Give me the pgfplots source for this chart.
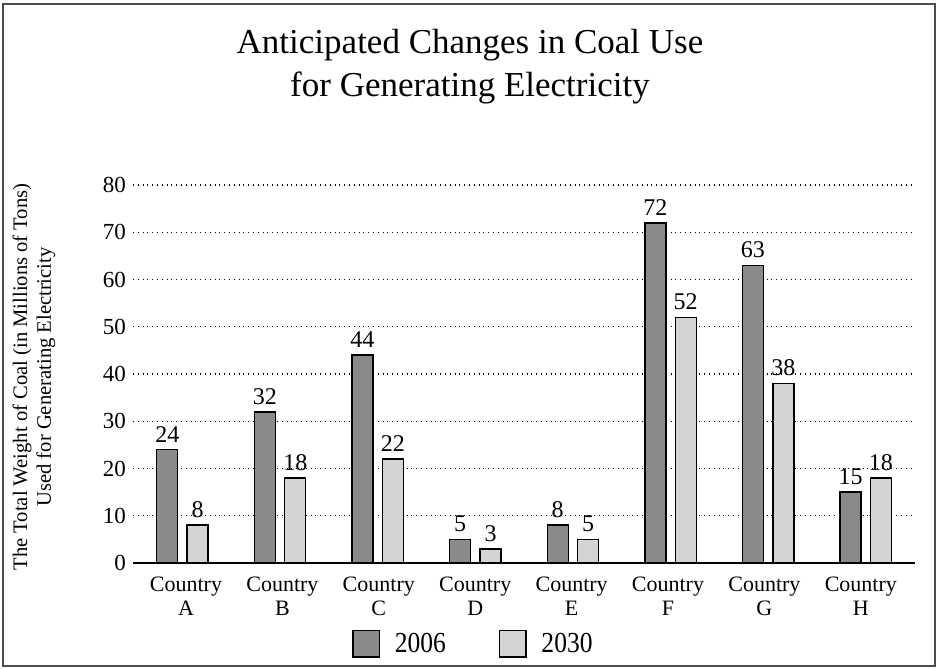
\documentclass[border=0pt]{standalone}
\usepackage{pgfplots}
\pgfplotsset{compat=1.18}
\usepackage{fontspec}
\setmainfont{Liberation Serif}
\newfontfamily\numfont[FakeStretch=0.88]{Liberation Serif}
\definecolor{dark}{HTML}{8A8A8A}
\definecolor{light}{HTML}{D4D4D4}
\begin{document}
\begin{tikzpicture}
\useasboundingbox (0,0) rectangle (469pt,334.5pt);
\draw[line width=0.7pt, black!70] (1.5pt,1.5pt) rectangle (467.5pt,332.5pt);
\node[anchor=base, font=\fontsize{17.5}{20}\selectfont] at (235pt,307.5pt) {Anticipated Changes in Coal Use};
\node[anchor=base, font=\fontsize{17.5}{20}\selectfont] at (235pt,286pt) {for Generating Electricity};
\node[rotate=90, align=center, font=\fontsize{10.3}{11.8}\selectfont] at (17pt,146pt) {The Total Weight of Coal (in Millions of Tons)\\Used for Generating Electricity};
\begin{axis}[
  at={(66.5pt,53pt)}, anchor=south west,
  scale only axis, width=391pt, height=189pt,
  ymin=0, ymax=80, ytick={0,10,...,80},
  xmin=-0.507, xmax=7.505,
  xtick={0.036,1.024,2.011,2.999,3.987,4.974,5.962,6.950},
  xticklabels={Country\\A,Country\\B,Country\\C,Country\\D,Country\\E,Country\\F,Country\\G,Country\\H},
  xticklabel style={align=center, font=\fontsize{11}{12}\selectfont, yshift=-3.5pt},
  yticklabel style={font=\fontsize{11.5}{13}\selectfont},
  /pgf/number format/assume math mode=true,
  axis x line*=bottom, axis y line*=left,
  y axis line style={draw=none},
  x axis line style={line width=0.8pt},
  major tick length=0pt,
  ymajorgrids, grid style={dotted, black, line width=0.7pt},
  ybar, bar width=10.5pt,
  nodes near coords,
  every node near coord/.append style={font=\fontsize{12}{13}\selectfont, /pgf/number format/assume math mode=true},
  legend columns=2,
  legend style={at={(axis description cs:0.434,-0.214)}, anchor=center, draw=none,
    font=\fontsize{14.5}{16}\numfont,
    nodes={inner sep=0pt},
    /tikz/every odd column/.append style={column sep=7.3pt},
    /tikz/every even column/.append style={column sep=26.5pt}},
  legend image code/.code={\draw[#1] (0pt,-6.65pt) rectangle (13.3pt,6.65pt);},
]
\addplot[draw=black, fill=dark, line width=0.7pt, bar shift=-7.6pt] coordinates {(0,24) (1,32) (2,44) (3,5) (4,8) (5,72) (6,63) (7,15)};
\addplot[draw=black, fill=light, line width=0.7pt, bar shift=7.6pt] coordinates {(0,8) (1,18) (2,22) (3,3) (4,5) (5,52) (6,38) (7,18)};
\legend{2006,2030}
\end{axis}
\end{tikzpicture}
\end{document}
